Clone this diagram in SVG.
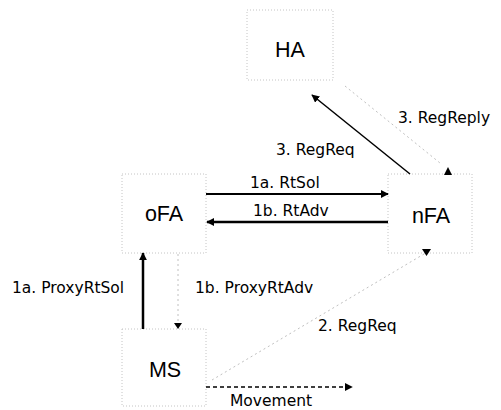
<svg xmlns="http://www.w3.org/2000/svg" width="501" height="410" viewBox="0 0 501 410">
<style>
.box{fill:none;stroke:#c4c4c4;stroke-width:1;stroke-dasharray:1 2}
.nt{font-family:"Liberation Sans",Arial,sans-serif;font-size:21.5px;fill:#000;text-anchor:middle}
.lb{font-family:"DejaVu Sans",Verdana,sans-serif;font-size:15.5px;fill:#000}
.solid{stroke:#000;fill:none}
.faint{stroke:#c0c0c0;stroke-width:1;stroke-dasharray:2 3;fill:none}
</style>
<defs>
<marker id="ah" viewBox="0 0 10 10" refX="9" refY="5" markerWidth="8" markerHeight="8" markerUnits="userSpaceOnUse" orient="auto"><path d="M0,0 L10,5 L0,10 Z" fill="#000"/></marker>
</defs>
<rect width="501" height="410" fill="#fff"/>
<g id="HA"><rect class="box" x="247" y="10" width="86" height="70"/><text class="nt" x="290" y="57">HA</text></g>
<g id="oFA"><rect class="box" x="122" y="174" width="84" height="79"/><text class="nt" x="164" y="221">oFA</text></g>
<g id="nFA"><rect class="box" x="388" y="174" width="84" height="79"/><text class="nt" x="431" y="223">nFA</text></g>
<g id="MS"><rect class="box" x="122" y="329" width="84" height="77"/><text class="nt" x="165" y="377">MS</text></g>
<g id="connectors">
<line class="solid" x1="206" y1="194" x2="388" y2="194" stroke-width="2" marker-end="url(#ah)"/>
<line class="solid" x1="388" y1="222" x2="207" y2="222" stroke-width="2.5" marker-end="url(#ah)"/>
<line class="solid" x1="143" y1="329" x2="143" y2="253" stroke-width="2.5" marker-end="url(#ah)"/>
<line class="solid" x1="410" y1="174" x2="312" y2="95" stroke-width="1.5" marker-end="url(#ah)"/>
<line class="solid" x1="206" y1="387" x2="352" y2="387" stroke-width="1.5" stroke-dasharray="4 3" marker-end="url(#ah)"/>
<line class="faint" x1="178" y1="254" x2="178" y2="323"/>
<polygon points="174,323 182,323 178,329" fill="#000"/>
<line class="faint" x1="212" y1="380" x2="424" y2="254"/>
<polygon points="422,249 431,249 426.5,256" fill="#000"/>
<line class="faint" x1="345" y1="86" x2="440" y2="163"/>
<polygon points="448,167 444,175 452,175" fill="#000"/>
</g>
<g id="labels">
<text class="lb" x="250" y="188">1a. RtSol</text>
<text class="lb" x="253" y="216">1b. RtAdv</text>
<text class="lb" x="12" y="293">1a. ProxyRtSol</text>
<text class="lb" x="195" y="293">1b. ProxyRtAdv</text>
<text class="lb" x="318" y="331">2. RegReq</text>
<text class="lb" x="276" y="155">3. RegReq</text>
<text class="lb" x="398" y="123">3. RegReply</text>
<text class="lb" x="230" y="406">Movement</text>
</g>
</svg>
